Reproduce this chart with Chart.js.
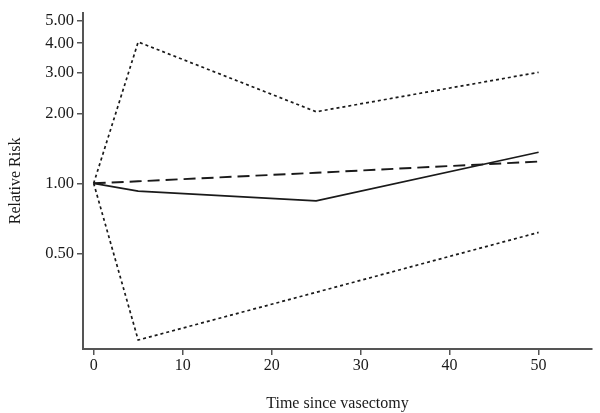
<!DOCTYPE html>
<html lang="en">
<head>
  <meta charset="UTF-8">
  <title>Relative Risk by Time since Vasectomy</title>
  <script src="https://cdn.jsdelivr.net/npm/chart.js"></script>
  <style>
body {
  margin: 0;
  background: #ffffff;
}

.chart-box {
  width: 600px;
  height: 413px;
  position: relative;
}
  </style>
</head>
<body>
  <div class="chart-box">
    <canvas id="riskChart"></canvas>
  </div>

  <script>
    // years since vasectomy
    const years = [0, 5, 25, 50];
    // relative risk estimates
    const estimate = [1.00, 0.925, 0.84, 1.36];
    const trend = [1.00, 1.02, 1.11, 1.24];
    const upperCI = [1.00, 4.05, 2.03, 3.00];
    const lowerCI = [1.00, 0.212, 0.34, 0.615];
    // axis ticks
    const yTicks = [0.5, 1, 2, 3, 4, 5];
    const xTicks = [0, 10, 20, 30, 40, 50];

    const ink = '#1a1a1a';
    const axisGrey = '#555555';
    const serif = 'Liberation Serif';

    const toPoints = vals => years.map((x, i) => ({ x: x, y: vals[i] }));

    const lineStyle = {
      fill: false,
      pointRadius: 0,
      tension: 0,
      borderColor: ink
    };

    new Chart(document.getElementById('riskChart').getContext('2d'), {
      type: 'line',
      data: {
        datasets: [
          Object.assign({ label: 'Estimate', data: toPoints(estimate), borderWidth: 1.7 }, lineStyle),
          Object.assign({ label: 'Trend', data: toPoints(trend), borderWidth: 1.9, borderDash: [12, 6] }, lineStyle),
          Object.assign({ label: 'Upper 95% CI', data: toPoints(upperCI), borderWidth: 1.7, borderDash: [3, 3] }, lineStyle),
          Object.assign({ label: 'Lower 95% CI', data: toPoints(lowerCI), borderWidth: 1.7, borderDash: [3, 3] }, lineStyle)
        ]
      },
      options: {
        responsive: true,
        maintainAspectRatio: false,
        animation: false,
        layout: { padding: { top: 8, right: 8, left: 0, bottom: 0 } },
        plugins: {
          legend: { display: false },
          tooltip: { enabled: false }
        },
        scales: {
          x: {
            type: 'linear',
            min: -1.2,
            max: 56,
            afterBuildTicks: axis => { axis.ticks = xTicks.map(v => ({ value: v })); },
            afterFit: axis => { axis.height = 64; },
            grid: { display: true, drawOnChartArea: false, drawTicks: true, tickLength: 6, color: axisGrey, lineWidth: 1.5 },
            border: { display: true, color: axisGrey, width: 2 },
            ticks: { color: ink, font: { family: serif, size: 16 }, padding: 1, maxRotation: 0 },
            title: { display: true, text: 'Time since vasectomy', color: ink, font: { family: serif, size: 16 }, padding: { top: 12, bottom: 0 } }
          },
          y: {
            type: 'logarithmic',
            min: 0.194,
            max: 5.4,
            afterBuildTicks: axis => { axis.ticks = yTicks.map(v => ({ value: v })); },
            afterFit: axis => { axis.width = 83; },
            grid: { display: true, drawOnChartArea: false, drawTicks: true, tickLength: 6, color: axisGrey, lineWidth: 1.5 },
            border: { display: true, color: axisGrey, width: 2 },
            ticks: {
              color: ink,
              font: { family: serif, size: 16.5 },
              padding: 3,
              callback: v => Number(v).toFixed(2)
            },
            title: { display: true, text: 'Relative Risk', color: ink, font: { family: serif, size: 16 }, padding: { top: 6, bottom: 6 } }
          }
        }
      }
    });
  </script>
</body>
</html>
